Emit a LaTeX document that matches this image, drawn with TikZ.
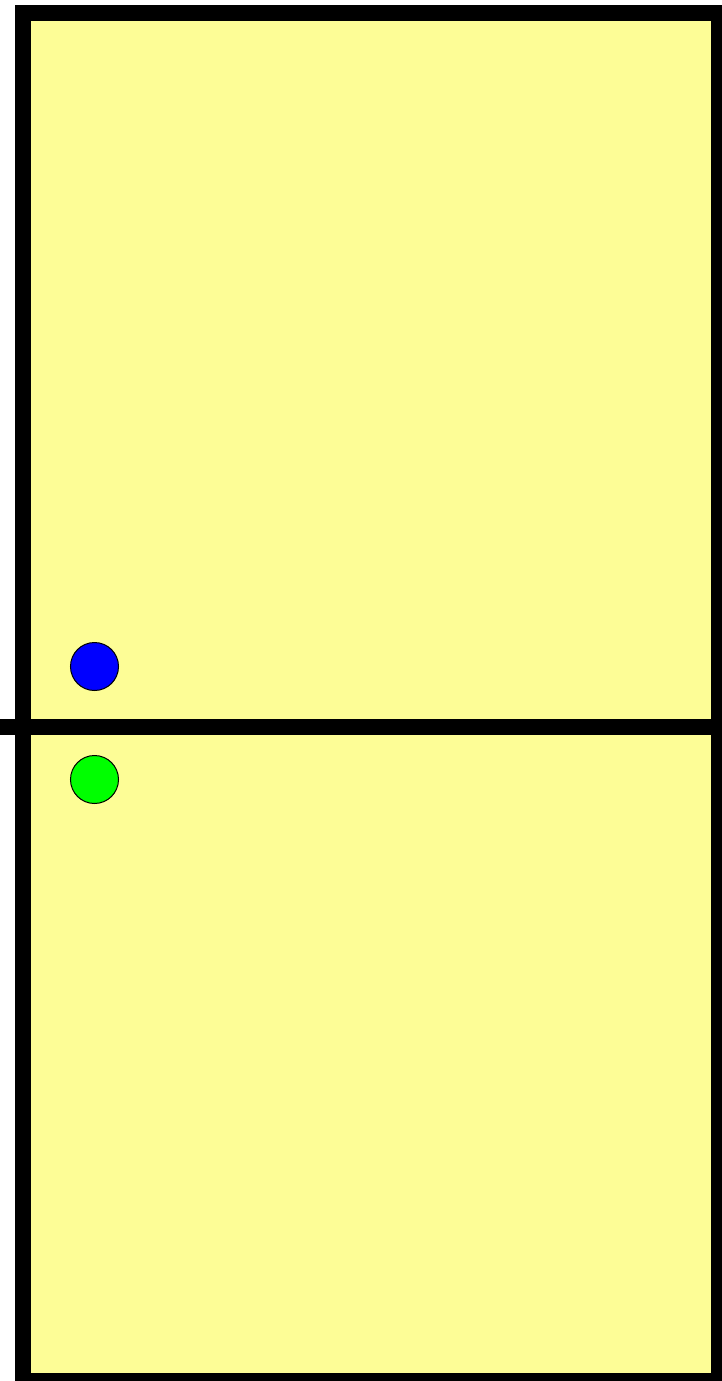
\documentclass[tikz,border=0pt]{standalone}
\usepackage{tikz}

\definecolor{roomyellow}{RGB}{253,253,150}

\begin{document}
\begin{tikzpicture}[x=1pt, y=-1pt]
  \useasboundingbox (0,0) rectangle (722,1381);
  % draw the yellow room with its thick walls
  \draw[fill=roomyellow, line width=16pt] (23,13) rectangle (719,1381);
  % draw the dividing wall
  \draw[line width=16pt] (0,727) -- (719,727);
  % draw the two markers
  \node[circle, draw, fill=blue, line width=1pt, minimum size=48pt, inner sep=0pt] (marker_top) at (94.5,666.5) {};
  \node[circle, draw, fill=green, line width=1pt, minimum size=48pt, inner sep=0pt] (marker_bottom) at (94.5,779.5) {};
\end{tikzpicture}
\end{document}
